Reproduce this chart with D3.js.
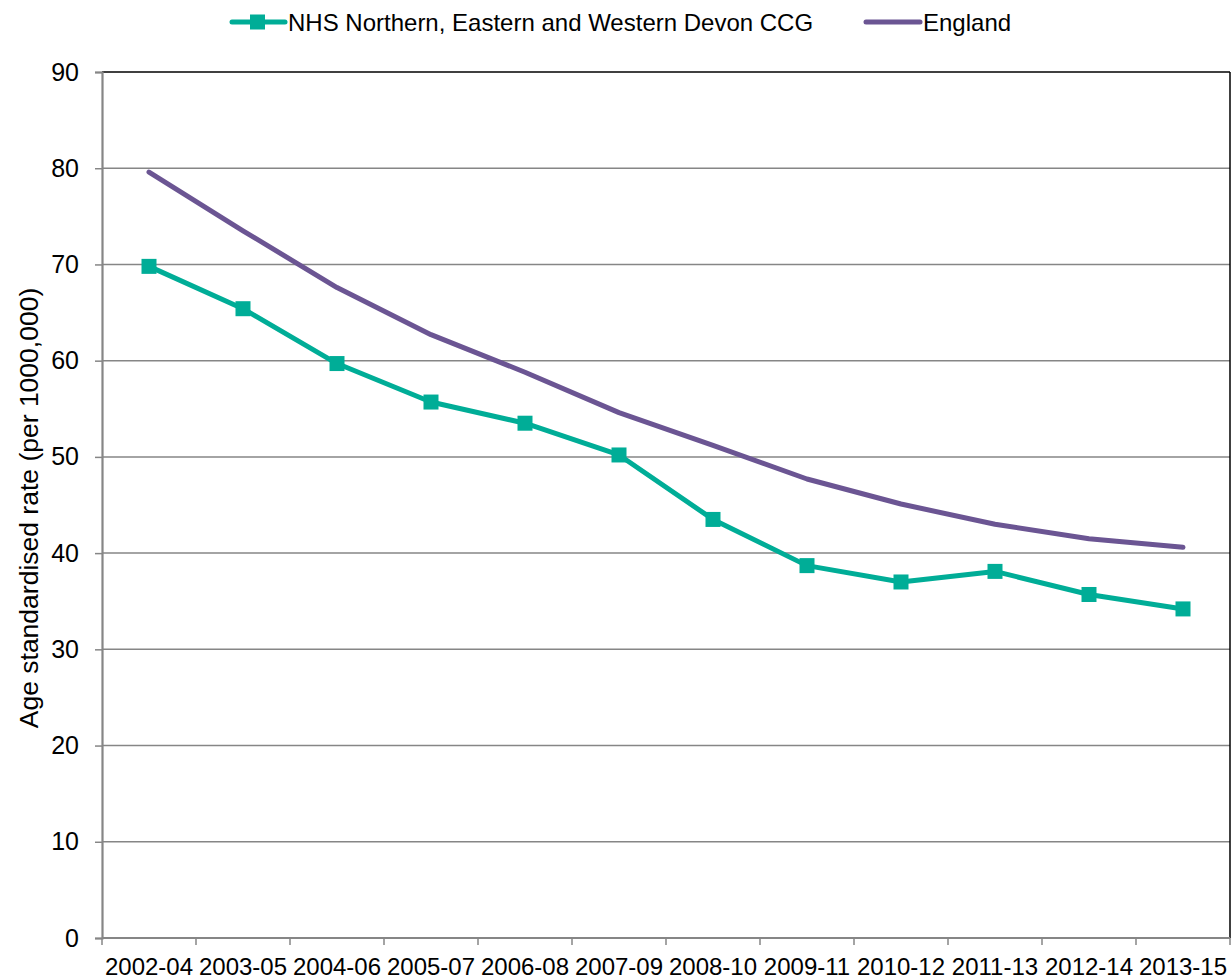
<!DOCTYPE html>
<html>
<head>
<meta charset="utf-8">
<script src="https://cdn.jsdelivr.net/npm/d3@7"></script>
<style>
  html, body { margin: 0; padding: 0; background: #fff; }
  svg { display: block; font-family: "Liberation Sans", Arial, sans-serif; }
  svg text { font-family: "Liberation Sans", Arial, sans-serif; }
</style>
</head>
<body>
<svg id="chart" width="1232" height="980"></svg>
<script>
const categories = ["2002-04","2003-05","2004-06","2005-07","2006-08","2007-09","2008-10","2009-11","2010-12","2011-13","2012-14","2013-15"];
const ccgValues = [69.8, 65.4, 59.7, 55.7, 53.5, 50.2, 43.5, 38.7, 37.0, 38.1, 35.7, 34.2];
const englandValues = [79.6, 73.5, 67.6, 62.7, 58.8, 54.6, 51.2, 47.7, 45.1, 43.0, 41.5, 40.6];
const yTicks = [0, 10, 20, 30, 40, 50, 60, 70, 80, 90];
const seriesNames = ["NHS Northern, Eastern and Western Devon CCG", "England"];
const yTitle = "Age standardised rate (per 1000,000)";

const teal = "#00AD97";
const purple = "#6B5593";
const gridCol = "#868686";

const svg = d3.select("#chart");
const L = 102, R = 1230, T = 72, B = 938;

const x = d3.scaleBand().domain(categories).range([L, R]).padding(0);
const y = d3.scaleLinear().domain([0, 90]).range([B, T]);
const cx = d => x(d) + x.bandwidth() / 2;

// gridlines
svg.append("g").selectAll("line").data(yTicks.filter(v => v > 0 && v < 90)).join("line")
  .attr("x1", L).attr("x2", R).attr("y1", d => y(d)).attr("y2", d => y(d))
  .attr("stroke", gridCol).attr("stroke-width", 1.5);

// top & right border
svg.append("line").attr("x1", L).attr("x2", R).attr("y1", y(90)).attr("y2", y(90)).attr("stroke", "#000").attr("stroke-width", 1.5);
svg.append("line").attr("x1", R).attr("x2", R).attr("y1", y(90)).attr("y2", B).attr("stroke", "#000").attr("stroke-width", 1.5);

// Y axis
const yAxis = d3.axisLeft(y).tickValues(yTicks).tickSize(7).tickPadding(16).tickFormat(d3.format("d"));
const yg = svg.append("g").attr("transform", `translate(${L},0)`).call(yAxis);
yg.attr("font-family", null).attr("font-size", null);
yg.select(".domain").attr("stroke", gridCol).attr("stroke-width", 2.2);
yg.selectAll(".tick line").attr("stroke", gridCol).attr("stroke-width", 1.5);
yg.selectAll(".tick text").attr("font-size", 25).attr("fill", "#000");

// X axis: ticks at category boundaries
const bounds = categories.map(c => x(c)).concat([R]);
const xg = svg.append("g");
xg.append("line").attr("x1", L).attr("x2", R).attr("y1", B).attr("y2", B).attr("stroke", gridCol).attr("stroke-width", 2.2);
xg.selectAll("line.tk").data(bounds).join("line").attr("class", "tk")
  .attr("x1", d => d).attr("x2", d => d).attr("y1", B).attr("y2", B + 7)
  .attr("stroke", gridCol).attr("stroke-width", 1.5);
xg.selectAll("text").data(categories).join("text")
  .attr("x", d => cx(d)).attr("y", 975).attr("text-anchor", "middle")
  .attr("font-size", 24).attr("fill", "#000").text(d => d);

// Y title
svg.append("text")
  .attr("transform", `translate(38,${(T + B) / 2 + 3}) rotate(-90)`)
  .attr("text-anchor", "middle").attr("font-size", 26.5).attr("fill", "#000")
  .text(yTitle);

// lines
const line = d3.line().x((d, i) => cx(categories[i])).y(d => y(d));
svg.append("path").datum(englandValues).attr("d", line)
  .attr("fill", "none").attr("stroke", purple).attr("stroke-width", 5)
  .attr("stroke-linecap", "round").attr("stroke-linejoin", "round");
svg.append("path").datum(ccgValues).attr("d", line)
  .attr("fill", "none").attr("stroke", teal).attr("stroke-width", 5)
  .attr("stroke-linejoin", "round");
const ms = 15;
svg.append("g").selectAll("rect").data(ccgValues).join("rect")
  .attr("x", (d, i) => cx(categories[i]) - ms / 2)
  .attr("y", d => y(d) - ms / 2)
  .attr("width", ms).attr("height", ms).attr("fill", teal);

// legend
const lg = svg.append("g");
const ly = 22;
lg.append("line").attr("x1", 232).attr("x2", 285).attr("y1", ly).attr("y2", ly)
  .attr("stroke", teal).attr("stroke-width", 5).attr("stroke-linecap", "round");
lg.append("rect").attr("x", 257.5 - ms / 2).attr("y", ly - ms / 2).attr("width", ms).attr("height", ms).attr("fill", teal);
lg.append("text").attr("x", 288).attr("y", ly).attr("dy", "0.36em").attr("font-size", 24).attr("fill", "#000").text(seriesNames[0]);
lg.append("line").attr("x1", 866).attr("x2", 920).attr("y1", ly).attr("y2", ly)
  .attr("stroke", purple).attr("stroke-width", 5).attr("stroke-linecap", "round");
lg.append("text").attr("x", 923).attr("y", ly).attr("dy", "0.36em").attr("font-size", 24).attr("fill", "#000").text(seriesNames[1]);
</script>
</body>
</html>
